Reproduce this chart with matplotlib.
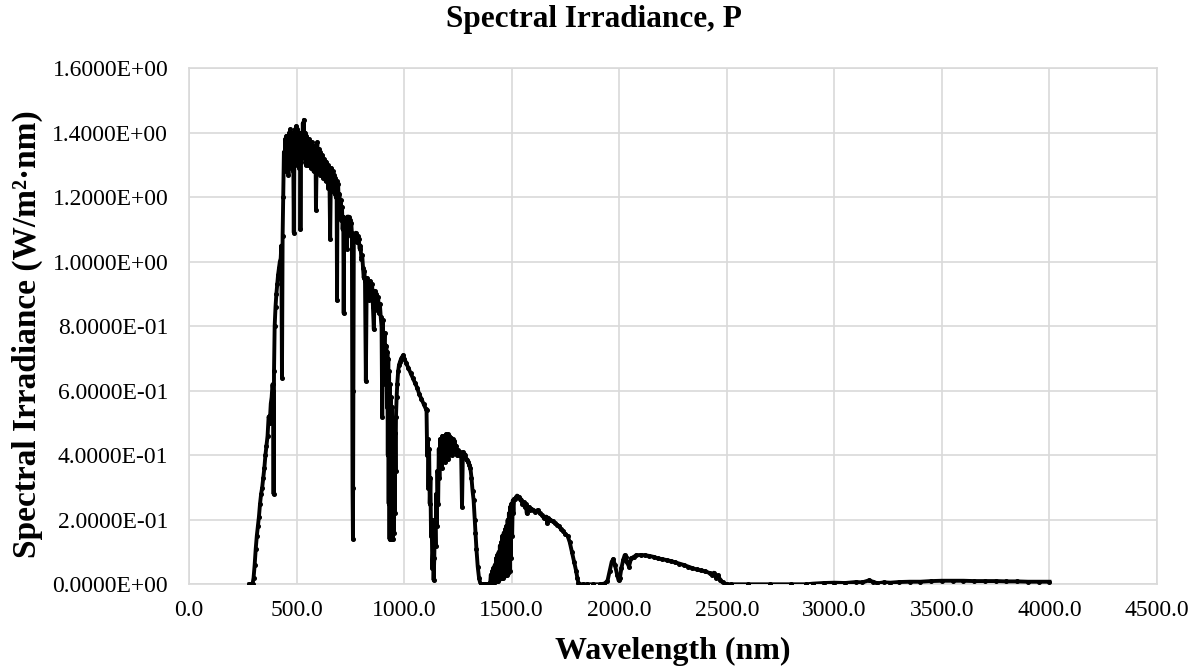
import matplotlib
matplotlib.use('Agg')
import matplotlib.pyplot as plt
from matplotlib.ticker import FuncFormatter

# (wavelength nm, irradiance W/m2/nm), band by band
band_uv = [(280, 0.0), (290, 0.0), (295, 0.0), (300, 0.02), (305, 0.06), (310, 0.11), (315, 0.15),
           (320, 0.18), (325, 0.21), (330, 0.25), (335, 0.28), (340, 0.30), (345, 0.33), (350, 0.36),
           (355, 0.40), (360, 0.43), (365, 0.46), (370, 0.52), (375, 0.50), (380, 0.56), (384, 0.58),
           (388, 0.62), (391, 0.60), (393, 0.28), (395, 0.66), (398, 0.80), (402, 0.86), (406, 0.90),
           (410, 0.93), (414, 0.96), (418, 0.98), (422, 1.00), (426, 1.01), (429, 1.05), (432, 0.64),
           (435, 1.08), (438, 1.20), (441, 1.34)]

band_vis = [(444, 1.30), (447, 1.38), (450, 1.28), (453, 1.39), (456, 1.30), (459, 1.38), (462, 1.27),
            (465, 1.40), (468, 1.31), (471, 1.41), (474, 1.29), (477, 1.40), (480, 1.33), (483, 1.39),
            (485, 1.28), (487, 1.09), (489, 1.30), (492, 1.41), (495, 1.32), (498, 1.42), (501, 1.30),
            (504, 1.41), (507, 1.34), (510, 1.40), (513, 1.29), (516, 1.38), (518, 1.10), (520, 1.31),
            (523, 1.40), (526, 1.33), (529, 1.43), (532, 1.35), (534, 1.44), (537, 1.32), (540, 1.40),
            (543, 1.30), (546, 1.39), (549, 1.32), (552, 1.37), (555, 1.30), (558, 1.38), (561, 1.31),
            (564, 1.36), (567, 1.29), (570, 1.37), (573, 1.30), (576, 1.35), (579, 1.28), (582, 1.36),
            (585, 1.29), (588, 1.34), (590, 1.16), (593, 1.30), (596, 1.37), (599, 1.29), (602, 1.35),
            (605, 1.28), (608, 1.34), (611, 1.27), (614, 1.33), (617, 1.28), (620, 1.33), (623, 1.26),
            (626, 1.32), (629, 1.27), (632, 1.31), (635, 1.25), (638, 1.31), (641, 1.26), (644, 1.30),
            (647, 1.23), (650, 1.29), (653, 1.24), (656, 1.07), (659, 1.25), (662, 1.29), (665, 1.23),
            (668, 1.28), (671, 1.22), (674, 1.27), (677, 1.21), (680, 1.26), (683, 1.20), (686, 1.25),
            (688, 0.88), (690, 1.20), (693, 1.24), (696, 1.18), (699, 1.21), (702, 1.15), (705, 1.19),
            (708, 1.13), (711, 1.17), (714, 1.10), (717, 1.14), (719, 0.84), (721, 1.10), (724, 1.13),
            (727, 1.06), (730, 1.12), (733, 1.04), (736, 1.14), (739, 1.09), (742, 1.14), (745, 1.10),
            (748, 1.13), (751, 1.08), (754, 1.12), (757, 1.09), (760, 0.30), (762, 0.14), (764, 0.60),
            (766, 1.08)]

band_nir1 = [(770, 1.07), (775, 1.09), (780, 1.06), (785, 1.08), (789, 1.07), (793, 1.04), (797, 1.05),
             (801, 1.01), (805, 1.02), (809, 0.98), (812, 0.95), (815, 0.97), (818, 0.94), (822, 0.63),
             (826, 0.95), (830, 0.90), (834, 0.93), (838, 0.88), (843, 0.94), (847, 0.90), (851, 0.93),
             (855, 0.86), (859, 0.79), (863, 0.91), (867, 0.88), (871, 0.90), (875, 0.85), (879, 0.89),
             (883, 0.84), (887, 0.87), (891, 0.83), (895, 0.80), (898, 0.52), (901, 0.82), (905, 0.70),
             (909, 0.78), (913, 0.62), (917, 0.74), (920, 0.55), (922, 0.72), (924, 0.40), (926, 0.70),
             (928, 0.25), (930, 0.66), (932, 0.14), (934, 0.62), (936, 0.14), (938, 0.58), (940, 0.15),
             (942, 0.55), (944, 0.14), (946, 0.50), (948, 0.14), (950, 0.47), (952, 0.16), (954, 0.45),
             (956, 0.22), (958, 0.47), (960, 0.35), (962, 0.52), (965, 0.58), (968, 0.62), (972, 0.66),
             (976, 0.68), (981, 0.69), (986, 0.70), (991, 0.705), (996, 0.71), (1001, 0.70)]

band_nir2 = [(1010, 0.685), (1020, 0.67), (1030, 0.655), (1040, 0.64), (1050, 0.625), (1060, 0.61),
             (1070, 0.59), (1080, 0.575), (1090, 0.56), (1100, 0.545), (1104, 0.54), (1107, 0.40),
             (1110, 0.45), (1113, 0.30), (1116, 0.42), (1119, 0.25), (1122, 0.33), (1125, 0.15),
             (1128, 0.20), (1131, 0.05), (1134, 0.10), (1137, 0.013), (1140, 0.08), (1143, 0.20),
             (1146, 0.12), (1149, 0.28), (1152, 0.18), (1155, 0.35), (1158, 0.25), (1161, 0.42),
             (1164, 0.33), (1167, 0.45), (1170, 0.45), (1174, 0.36), (1178, 0.46), (1182, 0.40),
             (1186, 0.46), (1190, 0.38), (1194, 0.465), (1198, 0.41), (1202, 0.465), (1206, 0.39),
             (1210, 0.46), (1214, 0.42), (1218, 0.455), (1222, 0.40), (1226, 0.45), (1230, 0.42),
             (1234, 0.445), (1238, 0.41), (1242, 0.43), (1246, 0.40), (1250, 0.415), (1255, 0.40),
             (1260, 0.41), (1265, 0.40), (1269, 0.24), (1273, 0.41), (1278, 0.405), (1283, 0.40),
             (1288, 0.39), (1293, 0.385), (1298, 0.38), (1303, 0.37), (1308, 0.36), (1313, 0.33),
             (1318, 0.29), (1323, 0.26), (1328, 0.20), (1331, 0.16), (1336, 0.11), (1342, 0.055),
             (1348, 0.02), (1355, 0.0)]

band_swir1 = [(1365, 0.0), (1375, 0.0), (1385, 0.0), (1395, 0.002), (1400, 0.005), (1403, 0.03),
              (1406, 0.0), (1409, 0.04), (1412, 0.005), (1415, 0.05), (1418, 0.005), (1421, 0.06),
              (1424, 0.01), (1427, 0.08), (1430, 0.01), (1433, 0.09), (1436, 0.01), (1439, 0.10),
              (1442, 0.015), (1445, 0.12), (1448, 0.02), (1451, 0.13), (1454, 0.02), (1457, 0.15),
              (1460, 0.02), (1463, 0.16), (1466, 0.025), (1469, 0.17), (1472, 0.03), (1475, 0.18),
              (1478, 0.03), (1481, 0.20), (1484, 0.035), (1487, 0.22), (1490, 0.04), (1493, 0.24),
              (1496, 0.08), (1499, 0.25), (1502, 0.15), (1505, 0.26), (1508, 0.22), (1511, 0.265),
              (1515, 0.265), (1520, 0.27), (1525, 0.275), (1530, 0.27), (1535, 0.27), (1540, 0.265),
              (1545, 0.26), (1550, 0.25), (1555, 0.255), (1560, 0.24), (1565, 0.25), (1570, 0.22),
              (1575, 0.235), (1580, 0.24), (1585, 0.23), (1590, 0.235), (1600, 0.23), (1610, 0.225),
              (1620, 0.23), (1630, 0.22), (1640, 0.215), (1650, 0.205), (1660, 0.21), (1665, 0.19),
              (1670, 0.205), (1680, 0.20), (1690, 0.195), (1700, 0.19), (1710, 0.185), (1720, 0.18),
              (1730, 0.17), (1740, 0.165), (1750, 0.155), (1760, 0.15), (1770, 0.13), (1780, 0.10),
              (1790, 0.07), (1800, 0.04), (1805, 0.02), (1810, 0.005), (1815, 0.0), (1830, 0.0)]

band_swir2 = [(1850, 0.0), (1880, 0.0), (1910, 0.0), (1930, 0.002), (1945, 0.01), (1955, 0.04),
              (1965, 0.07), (1972, 0.078), (1980, 0.06), (1990, 0.03), (1997, 0.012), (2003, 0.02),
              (2010, 0.05), (2018, 0.075), (2025, 0.09), (2030, 0.085), (2035, 0.07), (2045, 0.055),
              (2055, 0.08), (2067, 0.085), (2080, 0.09), (2100, 0.091), (2120, 0.09), (2140, 0.088),
              (2160, 0.085), (2180, 0.08), (2200, 0.078), (2220, 0.075), (2240, 0.072), (2260, 0.068),
              (2280, 0.064), (2300, 0.06), (2320, 0.055), (2340, 0.05), (2360, 0.046), (2380, 0.043),
              (2400, 0.04), (2420, 0.035), (2430, 0.03), (2440, 0.036), (2450, 0.02), (2460, 0.028),
              (2470, 0.012), (2480, 0.006), (2490, 0.002), (2500, 0.0)]

band_ir = [(2520, 0.0), (2600, 0.0), (2700, 0.0), (2800, 0.0), (2870, 0.0), (2900, 0.002),
           (2950, 0.004), (3000, 0.005), (3050, 0.004), (3100, 0.007), (3130, 0.006), (3160, 0.012),
           (3180, 0.008), (3200, 0.003), (3230, 0.006), (3260, 0.005), (3300, 0.007), (3350, 0.008),
           (3400, 0.008), (3450, 0.01), (3500, 0.011), (3550, 0.011), (3600, 0.011), (3650, 0.01),
           (3700, 0.01), (3750, 0.01), (3800, 0.009), (3850, 0.009), (3900, 0.008), (3950, 0.008),
           (4000, 0.008)]

x_ticks = [0, 500, 1000, 1500, 2000, 2500, 3000, 3500, 4000, 4500]
y_ticks = [0.0, 0.2, 0.4, 0.6, 0.8, 1.0, 1.2, 1.4, 1.6]

spectrum = band_uv + band_vis + band_nir1 + band_nir2 + band_swir1 + band_swir2 + band_ir
wavelength = [p[0] for p in spectrum]
irradiance = [p[1] for p in spectrum]

plt.rcParams['font.family'] = ['Liberation Serif', 'DejaVu Serif']

fig = plt.figure(figsize=(11.98, 6.72), dpi=100)
ax = fig.add_axes([0.1578, 0.1305, 0.808, 0.768])

ax.plot(wavelength, irradiance, color='black', lw=2.8, marker='o', ms=2.6, zorder=3)

ax.set_xlim(0, 4500)
ax.set_ylim(0, 1.6)
ax.set_xticks(x_ticks)
ax.set_yticks(y_ticks)
ax.xaxis.set_major_formatter(FuncFormatter(lambda v, p: '{:.1f}'.format(v)))
ax.yaxis.set_major_formatter(FuncFormatter(lambda v, p: '{:.4E}'.format(v)))
ax.tick_params(length=0, labelsize=17, colors='black')
ax.tick_params(axis='y', pad=15)
ax.tick_params(axis='x', pad=11)
ax.grid(True, color='#d9d9d9', lw=1.2)
ax.set_axisbelow(True)
for s in ax.spines.values():
    s.set_color('#d9d9d9')
    s.set_linewidth(1.2)

fig.text(0.496, 1 - 20 / 672, 'Spectral Irradiance, P', ha='center', va='center',
         fontsize=22.5, fontweight='bold')
fig.text(0.5615, 1 - 651 / 672, 'Wavelength (nm)', ha='center', va='center',
         fontsize=23, fontweight='bold')
fig.text(0.0225, 1 - 334 / 672, 'Spectral Irradiance (W/m²·nm)', ha='center', va='center',
         rotation=90, fontsize=24, fontweight='bold')

fig.savefig('out.png', dpi=100)
